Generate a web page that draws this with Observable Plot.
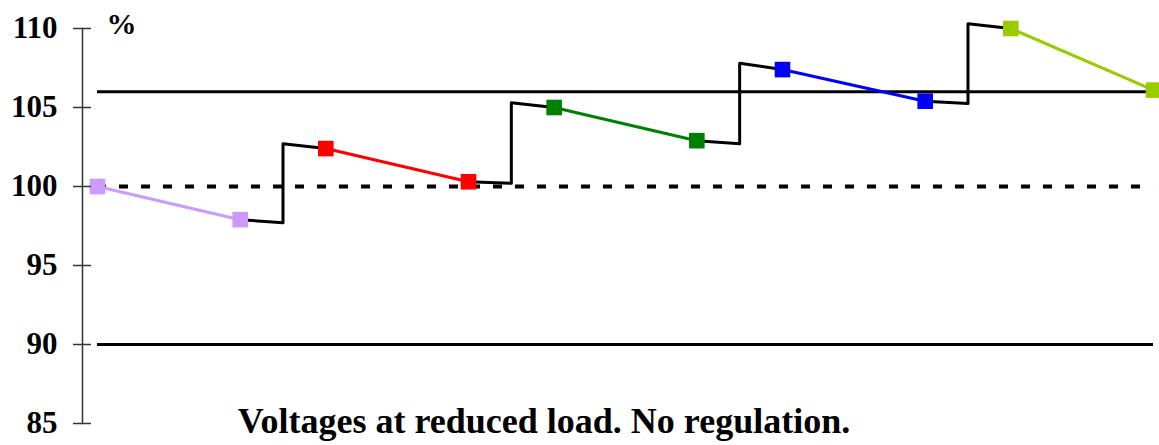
<!DOCTYPE html>
<html>
<head>
<meta charset="utf-8">
<script src="https://cdn.jsdelivr.net/npm/d3@7"></script>
<script src="https://cdn.jsdelivr.net/npm/@observablehq/plot@0.6"></script>
<style>
  html, body { margin: 0; padding: 0; background: #fff; }
  svg { display: block; }
</style>
</head>
<body>
<script>
// Distance positions (arbitrary units) and voltage values (%)
const segX0 = [0, 16, 32, 48, 64];
const segX1 = [10, 26, 42, 58, 74];
const segV0 = [100.0, 102.4, 105.0, 107.4, 110.0];
const segV1 = [97.9, 100.3, 102.9, 105.4, 106.1];
const segColors = ["#CC99FF", "#FF0000", "#008000", "#0000FF", "#99CC00"];
const stepX = [13, 29, 45, 61];
const stepLow = [97.7, 100.2, 102.7, 105.25];
const stepHigh = [102.7, 105.3, 107.8, 110.3];
const limitLines = [106, 90];
const nominal = [100];
const yTicks = [85, 90, 95, 100, 105, 110];
const caption = "Voltages at reduced load. No regulation.";
const unitLabel = "%";

const segPts = segX0.flatMap((x0, i) => [
  {x: x0, y: segV0[i], s: i, c: segColors[i]},
  {x: segX1[i], y: segV1[i], s: i, c: segColors[i]}
]);
const stepPts = stepX.flatMap((sx, i) => [
  {x: segX1[i], y: segV1[i], s: i},
  {x: sx, y: stepLow[i], s: i},
  {x: sx, y: stepHigh[i], s: i},
  {x: segX0[i + 1], y: segV0[i + 1], s: i}
]);
const xMin = d3.min(segX0), xMax = d3.max(segX1);

const font = "'Liberation Serif', 'Times New Roman', serif";

const chart = Plot.plot({
  width: 1159,
  height: 445,
  marginTop: 28,
  marginBottom: 22,
  marginLeft: 82,
  marginRight: 0,
  style: {fontFamily: font, fontWeight: "bold", background: "#fff"},
  x: {domain: [-1.05, 74.42], axis: null},
  y: {domain: [85, 110], axis: null},
  color: {type: "identity"},
  marks: [
    Plot.ruleY(limitLines, {x1: xMin, x2: xMax, stroke: "#000", strokeWidth: 3}),
    Plot.ruleY(nominal, {x1: xMin, x2: xMax, stroke: "#000", strokeWidth: 4, strokeDasharray: "9,13"}),
    Plot.line(stepPts, {x: "x", y: "y", z: "s", stroke: "#000", strokeWidth: 3, curve: "linear"}),
    Plot.line(segPts, {x: "x", y: "y", z: "s", stroke: "c", strokeWidth: 3}),
    Plot.dot(segPts, {x: "x", y: "y", symbol: "square", r: 8.8, fill: "c", stroke: "none"}),
    Plot.frame({anchor: "left", stroke: "#333", strokeWidth: 1.5}),
    Plot.axisY(yTicks, {
      anchor: "left", tickSize: 18, dx: 9, tickPadding: 16,
      fontSize: 31, fontWeight: "bold", fontFamily: font, fill: "#000",
      stroke: "#333", strokeWidth: 1.5, label: null
    }),
    Plot.text([unitLabel], {frameAnchor: "top-left", dx: 39, dy: -4.5, lineAnchor: "middle", textAnchor: "middle",
      fontSize: 30, fontWeight: "bold", fontFamily: font, fill: "#000"}),
    Plot.text([caption], {frameAnchor: "bottom", dx: -77, dy: 9, lineAnchor: "bottom", textAnchor: "middle",
      fontSize: 36, fontWeight: "bold", fontFamily: font, fill: "#000"})
  ]
});
document.body.appendChild(chart);
</script>
</body>
</html>
